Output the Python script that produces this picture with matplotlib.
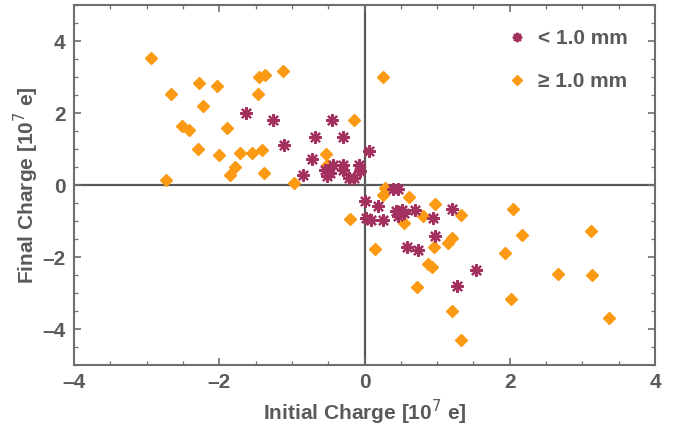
import matplotlib
matplotlib.use('Agg')
import matplotlib.pyplot as plt
from matplotlib.ticker import MultipleLocator

plt.rcParams['font.family'] = ['Liberation Sans', 'DejaVu Sans']

# small particles (< 1.0 mm): initial / final charge in 1e7 e
small_x = [-1.63, -1.26, -1.11, -0.68, -0.45, -0.30, -0.73, -0.85,
           -0.55, -0.48, -0.52, -0.44, -0.30, -0.30, -0.21, -0.14,
           -0.07, -0.06, 0.06,
           0.00, 0.18, 0.39, 0.46, 0.02, 0.09, 0.25, 0.44, 0.51, 0.46,
           0.55, 0.69, 0.94, 1.21, 0.97, 0.58, 0.74, 1.53, 1.27]
small_y = [1.99, 1.81, 1.12, 1.35, 1.81, 1.35, 0.73, 0.29,
           0.43, 0.35, 0.24, 0.55, 0.57, 0.43, 0.20, 0.20,
           0.57, 0.38, 0.95,
           -0.45, -0.57, -0.12, -0.12, -0.91, -0.96, -0.96, -0.73, -0.68, -0.87,
           -0.77, -0.68, -0.91, -0.65, -1.42, -1.72, -1.80, -2.35, -2.79]

# large particles (>= 1.0 mm)
large_x = [-2.94, -2.66, -2.28, -2.03, -2.22, -2.51, -2.42, -1.89, -2.29,
           -2.00, -1.72, -1.55, -1.41, -1.78, -1.85, -1.39, -2.73, -1.45,
           -1.37, -1.12, -1.46, -0.97, -0.14, -0.53, -0.51, 0.26,
           0.28, 0.25, 0.61, 0.97, 1.33, 0.80, 0.55, -0.20, 2.05, 2.17,
           3.12, 1.20, 1.15, 0.96, 0.14, 1.93, 0.88, 0.93, 2.66, 3.13,
           0.72, 2.01, 1.20, 3.37, 1.33]
large_y = [3.53, 2.54, 2.83, 2.74, 2.21, 1.63, 1.54, 1.60, 0.99,
           0.83, 0.90, 0.89, 0.97, 0.49, 0.27, 0.34, 0.13, 3.00,
           3.07, 3.17, 2.52, 0.05, 1.82, 0.87, 0.57, 3.00,
           -0.08, -0.27, -0.33, -0.52, -0.82, -0.85, -1.05, -0.94, -0.66, -1.38,
           -1.27, -1.47, -1.60, -1.72, -1.77, -1.88, -2.19, -2.27, -2.47, -2.49,
           -2.83, -3.16, -3.49, -3.70, -4.29]

text_gray = '#5a5a5a'
frame_gray = '#6e6e6e'
star_col = '#a3305e'
diamond_col = '#fd9a14'

fig = plt.figure(figsize=(6.76, 4.30), dpi=100)
ax = fig.add_axes([0.1095, 0.151, 0.8595, 0.837])

ax.axhline(0, color='#595959', lw=1.6, zorder=1)
ax.axvline(0, color='#595959', lw=1.6, zorder=1)

ax.plot(large_x, large_y, ls='none', marker='D', ms=6.5, color=diamond_col,
        mec=diamond_col, label='\u2265 1.0 mm', zorder=2)
ax.plot(small_x, small_y, ls='none', marker=(8, 2, 0), ms=9, mew=1.6,
        color=star_col, mec=star_col, label='< 1.0 mm', zorder=3)

ax.set_xlim(-4, 4)
ax.set_ylim(-5, 5)
ax.xaxis.set_major_locator(MultipleLocator(2))
ax.yaxis.set_major_locator(MultipleLocator(2))
ax.xaxis.set_minor_locator(MultipleLocator(0.5))
ax.yaxis.set_minor_locator(MultipleLocator(0.5))
ax.tick_params(which='both', direction='in', top=True, right=True,
               color=frame_gray, labelcolor=text_gray)
ax.tick_params(which='major', length=5, width=1.2, labelsize=15, pad=6)
ax.tick_params(which='minor', length=3, width=0.9)
for lab in ax.get_xticklabels() + ax.get_yticklabels():
    lab.set_fontweight('bold')
ax.xaxis.set_major_formatter(plt.FuncFormatter(lambda v, p: f'{v:g}'.replace('-', '\u2013')))
ax.yaxis.set_major_formatter(plt.FuncFormatter(lambda v, p: f'{v:g}'.replace('-', '\u2013')))
for s in ax.spines.values():
    s.set_color(frame_gray)
    s.set_linewidth(1.5)

ax.set_xlabel('Initial Charge [10$^{7}$ e]', fontsize=15, fontweight='bold',
              color=text_gray, labelpad=4)
ax.set_ylabel('Final Charge [10$^{7}$ e]', fontsize=15, fontweight='bold',
              color=text_gray)
ax.yaxis.set_label_coords(-0.056, 0.5)

h, l = ax.get_legend_handles_labels()
leg = ax.legend(h[::-1], l[::-1], loc='upper right', bbox_to_anchor=(0.985, 0.985),
                frameon=False, fontsize=15, handlelength=0.8, handletextpad=0.6,
                labelspacing=1.15, markerscale=0.75)
for t in leg.get_texts():
    t.set_color(text_gray)
    t.set_fontweight('bold')

fig.savefig('out.png', dpi=100)
